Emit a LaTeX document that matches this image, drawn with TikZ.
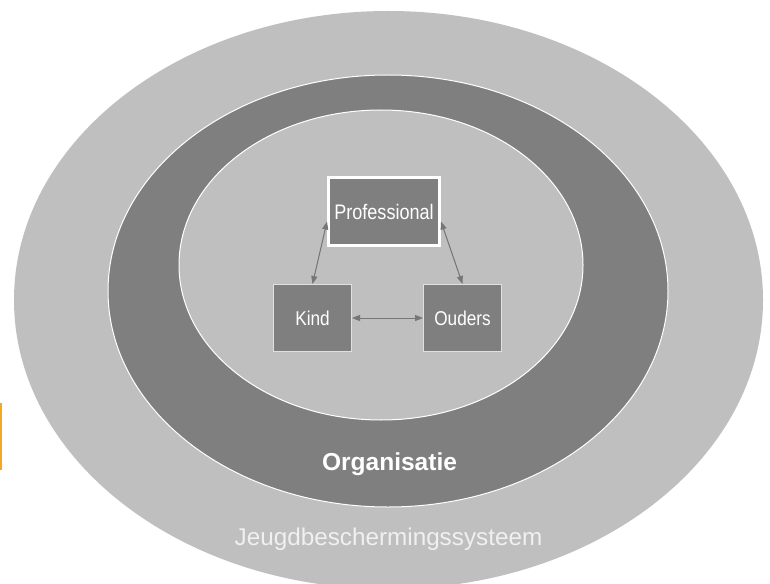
\documentclass[tikz,border=0pt]{standalone}
\usepackage{fontspec}
\setmainfont{Liberation Sans}
\newfontfamily\smalfont{Liberation Sans}[FakeStretch=0.86]
\usetikzlibrary{arrows.meta}
\definecolor{lichtgrijs}{RGB}{191,191,191}
\definecolor{donkergrijs}{RGB}{127,127,127}
\definecolor{pijlgrijs}{RGB}{118,118,118}
\definecolor{oranje}{RGB}{245,166,35}

\begin{document}
\begin{tikzpicture}[x=0.75pt,y=0.75pt,
        vak/.style={draw=white!88!black, line width=0.75pt, fill=donkergrijs, text=white,
            minimum width=58.5pt, minimum height=50.25pt, inner sep=0pt,
            font=\smalfont\fontsize{15}{18}\selectfont},
        pijl/.style={{Triangle[length=6pt,width=4.5pt]}-{Triangle[length=6pt,width=4.5pt]},
            draw=pijlgrijs, fill=pijlgrijs, line width=0.75pt},
        ring/.style={draw=white, line width=0.75pt}]
        \clip (0,0) rectangle (770,583);
        \fill[white] (0,0) rectangle (770,583);
        \draw[oranje, line width=1.2pt] (0.8,180) -- (0.8,113);

        \fill[lichtgrijs] (388.5,283) ellipse [x radius=374.5, y radius=289];
        \filldraw[ring, fill=donkergrijs] (388,292) ellipse [x radius=280, y radius=216];
        \filldraw[ring, fill=lichtgrijs] (381,318) ellipse [x radius=202, y radius=155];

        \node (X) at (389.5,112.3) [anchor=base, text=white, font=\bfseries\fontsize{18.4}{22}\selectfont] {Organisatie};
        \node (Y) at (388.5,38) [anchor=base, text=white!94!black, font=\fontsize{18.2}{22}\selectfont] {Jeugdbeschermingssysteem};

        \node (prof) at (384,371.5) [vak, line width=2.25pt, draw=white, minimum width=83.25pt, minimum height=51pt, font=\smalfont\fontsize{15.75}{18}\selectfont] {Professional};
        \node (kind) at (312.5,265) [vak] {Kind};
        \node (ouders) at (462.5,265) [vak] {Ouders};

        \draw[pijl] (kind.east) -- (ouders.west);
        \draw[pijl] (kind.north) -- (prof.190);
        \draw[pijl] (ouders.north) -- (prof.350);
    \end{tikzpicture}
\end{document}
